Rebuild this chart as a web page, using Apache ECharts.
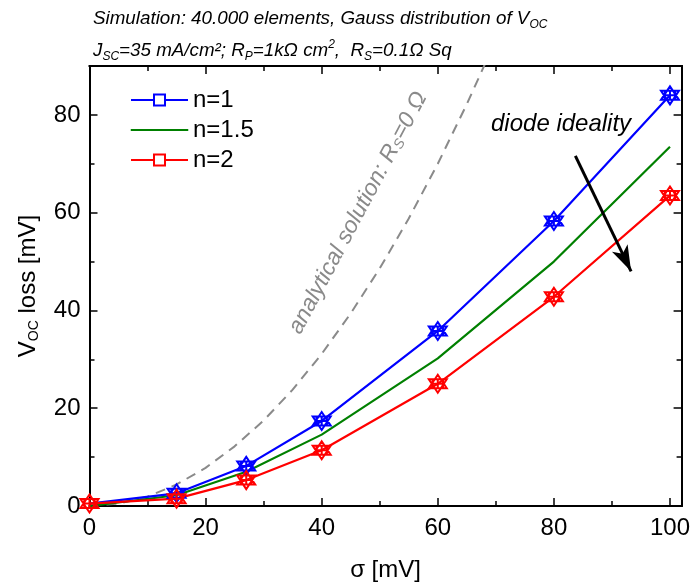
<!DOCTYPE html>
<html>
<head>
<meta charset="utf-8">
<script src="https://cdn.jsdelivr.net/npm/echarts@6/dist/echarts.min.js"></script>
<style>html,body{margin:0;padding:0;background:#fff}#c{width:693px;height:587px}</style>
</head>
<body>
<div id="c"></div>
<script>
// ---- data ----
var sigma = [0, 15, 27, 40, 60, 80, 100];
var lossN1 = [0.5, 2.6, 8.2, 17.4, 35.8, 58.3, 84.0];
var lossN15 = [0, 2.2, 7.0, 14.6, 30.2, 50.0, 73.5];
var lossN2 = [0.5, 1.5, 5.3, 11.4, 25.0, 42.8, 63.5];
var sigmaAnalytic = [0, 5, 10, 15, 20, 25, 30, 35, 40, 45, 50, 55, 60, 65, 70];
var lossAnalytic = [0, 0.5, 1.9, 4.4, 7.8, 12.2, 17.5, 23.8, 31.1, 39.4, 48.6, 58.8, 70.0, 82.2, 95.3];
var xMajorTicks = [0, 20, 40, 60, 80, 100];
var xMinorTicks = [10, 30, 50, 70, 90];
var yMajorTicks = [0, 20, 40, 60, 80];
var yMinorTicks = [10, 30, 50, 70];
var arrowFrom = [83.7, 71.6];
var arrowTo = [93.3, 48.0];

function pairs(xs, ys) { return xs.map(function (x, i) { return [x, ys[i]]; }); }

var FONT = '"Liberation Sans", Arial, sans-serif';
var markerPath = 'path://M10,0L18.66,15L1.34,15Z M10,20L1.34,5L18.66,5Z M5,5H15V15H5Z M10,5V15 M5,10H15';

function xAx(pos, ticks, len, labels) {
  return {
    type: 'value', position: pos, min: 0, max: 102,
    axisLine: { show: true, onZero: false, lineStyle: { color: '#000', width: 2 } },
    axisTick: { show: true, inside: true, length: len, customValues: ticks, lineStyle: { color: '#000', width: 1.5 } },
    axisLabel: labels ? { show: true, customValues: ticks, fontSize: 24, color: '#000', fontFamily: FONT, margin: 10 } : { show: false },
    splitLine: { show: false }
  };
}
function yAx(pos, ticks, len, labels) {
  return {
    type: 'value', position: pos, min: 0, max: 90,
    axisLine: { show: true, onZero: false, lineStyle: { color: '#000', width: 2 } },
    axisTick: { show: true, inside: true, length: len, customValues: ticks, lineStyle: { color: '#000', width: 1.5 } },
    axisLabel: labels ? { show: true, customValues: ticks, fontSize: 24, color: '#000', fontFamily: FONT, margin: 9 } : { show: false },
    splitLine: { show: false }
  };
}

var xAxes = [xAx('bottom', xMajorTicks, 8, true), xAx('bottom', xMinorTicks, 5, false), xAx('top', xMajorTicks, 8, false), xAx('top', xMinorTicks, 5, false)];
xAxes[0].name = 'σ [mV]';
xAxes[0].nameLocation = 'middle';
xAxes[0].nameGap = 52;
xAxes[0].nameTextStyle = { fontSize: 24, color: '#000', fontFamily: FONT };
var yAxes = [yAx('left', yMajorTicks, 8, true), yAx('left', yMinorTicks, 5, false), yAx('right', yMajorTicks, 8, false), yAx('right', yMinorTicks, 5, false)];
yAxes[0].name = 'V{sub|OC} loss [mV]';
yAxes[0].nameLocation = 'middle';
yAxes[0].nameGap = 48;
yAxes[0].nameTextStyle = {
  fontSize: 24, color: '#000', fontFamily: FONT, lineHeight: 26,
  rich: { sub: { fontSize: 14, verticalAlign: 'bottom', lineHeight: 15, fontFamily: FONT, color: '#000' } }
};

function markerSeries(name, data, color) {
  return {
    name: name, type: 'line', data: data, xAxisIndex: 0, yAxisIndex: 0,
    symbol: markerPath, symbolSize: 18, showSymbol: true, clip: true,
    lineStyle: { color: color, width: 2.2 },
    itemStyle: { color: 'rgba(0,0,0,0)', borderColor: color, borderWidth: 2 },
    emphasis: { disabled: true }, animation: false, z: 3
  };
}

var n1Data = pairs(sigma, lossN1);
n1Data[0] = { value: n1Data[0], symbol: 'none' };

var seriesList = [
  {
    name: 'analytical', type: 'line', data: pairs(sigmaAnalytic, lossAnalytic), xAxisIndex: 0, yAxisIndex: 0,
    symbol: 'none', clip: true, smooth: false,
    lineStyle: { color: '#8a8a8a', width: 2, type: [10, 7] },
    emphasis: { disabled: true }, animation: false, z: 1
  },
  {
    name: 'n=1.5', type: 'line', data: pairs(sigma, lossN15), xAxisIndex: 0, yAxisIndex: 0,
    symbol: 'none', clip: true,
    lineStyle: { color: '#008000', width: 2.2 },
    itemStyle: { color: '#008000' },
    emphasis: { disabled: true }, animation: false, z: 2
  },
  markerSeries('n=1', n1Data, '#0000ff'),
  markerSeries('n=2', pairs(sigma, lossN2), '#ff0000')
];
seriesList[3].markLine = {
  silent: true, animation: false,
  symbol: ['none', 'arrow'], symbolSize: [13, 26],
  label: { show: false },
  lineStyle: { color: '#000', width: 3, type: 'solid' },
  data: [[{ coord: arrowFrom }, { coord: arrowTo }]]
};

var option = {
  backgroundColor: '#fff',
  animation: false,
  grid: { left: 89.5, right: 10, top: 66, bottom: 79, containLabel: false },
  xAxis: xAxes,
  yAxis: yAxes,
  title: [
    {
      text: 'Simulation: 40.000 elements, Gauss distribution of V{sub|OC}',
      left: 88, top: 2,
      textStyle: {
        fontSize: 18.8, fontStyle: 'italic', fontWeight: 'normal', color: '#000', fontFamily: FONT, lineHeight: 24,
        rich: { sub: { fontSize: 12, fontStyle: 'italic', verticalAlign: 'bottom', lineHeight: 13, color: '#000', fontFamily: FONT } }
      }
    },
    {
      text: 'J{sub|SC}=35 mA/cm²; R{sub|P}=1kΩ cm{sup|2},  R{sub|S}=0.1Ω Sq',
      left: 88, top: 34,
      textStyle: {
        fontSize: 18.8, fontStyle: 'italic', fontWeight: 'normal', color: '#000', fontFamily: FONT, lineHeight: 24,
        rich: {
          sub: { fontSize: 12, fontStyle: 'italic', verticalAlign: 'bottom', lineHeight: 13, color: '#000', fontFamily: FONT },
          sup: { fontSize: 12, fontStyle: 'italic', verticalAlign: 'top', lineHeight: 13, color: '#000', fontFamily: FONT }
        }
      }
    }
  ],
  legend: {
    orient: 'vertical', left: 125, top: 83,
    itemWidth: 57, itemHeight: 11, itemGap: 6,
    selectedMode: false,
    textStyle: { fontSize: 24, color: '#000', fontFamily: FONT },
    data: [
      { name: 'n=1', icon: 'path://M0,5.5H23M23,0H34V11H23ZM34,5.5H57', itemStyle: { color: 'rgba(0,0,0,0)', borderColor: '#0000ff', borderWidth: 2 } },
      { name: 'n=1.5', icon: 'path://M0,0H57V1H0Z', itemStyle: { color: '#008000', borderColor: '#008000', borderWidth: 1 } },
      { name: 'n=2', icon: 'path://M0,5.5H23M23,0H34V11H23ZM34,5.5H57', itemStyle: { color: 'rgba(0,0,0,0)', borderColor: '#ff0000', borderWidth: 2 } }
    ]
  },
  graphic: [
    {
      type: 'text', x: 358, y: 213, rotation: 62 * Math.PI / 180, silent: true,
      style: {
        text: 'analytical solution: R{sub|S}=0 Ω', fill: '#8a8a8a', align: 'center', verticalAlign: 'middle',
        font: 'italic 23px ' + FONT,
        rich: { sub: { fontSize: 14, fontStyle: 'italic', verticalAlign: 'bottom', lineHeight: 15, fill: '#8a8a8a', fontFamily: FONT } }
      }
    },
    {
      type: 'text', x: 491, y: 124, silent: true,
      style: { text: 'diode ideality', fill: '#000', align: 'left', verticalAlign: 'middle', font: 'italic 24px ' + FONT }
    }
  ],
  series: seriesList
};

var chart = echarts.init(document.getElementById('c'), null, { renderer: 'canvas' });
chart.setOption(option);
</script>
</body>
</html>
